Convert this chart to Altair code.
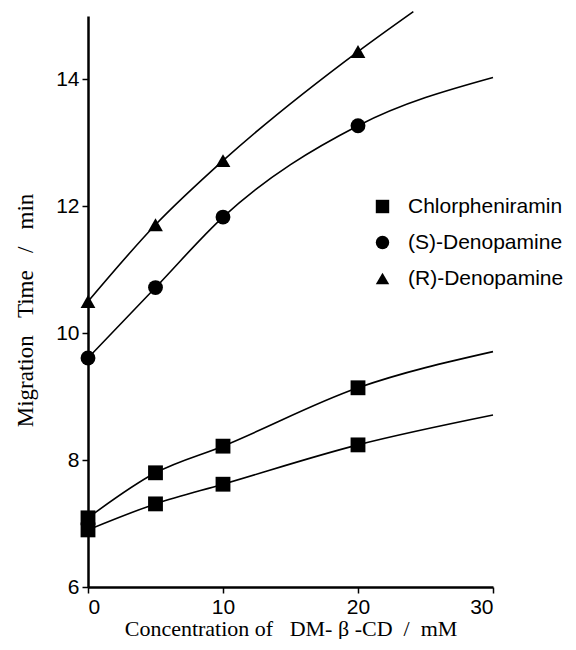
import altair as alt
import pandas as pd

# ---- data ----
conc = [0, 5, 10, 20]
chl_upper = [7.09, 7.80, 8.22, 9.14]
chl_lower = [6.90, 7.31, 7.62, 8.24]
s_deno = [9.61, 10.72, 11.83, 13.27]
r_deno = [10.50, 11.71, 12.72, 14.44]

# where the fitted curves end
end_x = [30, 30, 30, 24.1]
end_y = [9.71, 8.71, 14.03, 15.07]

series_ids = ["chl_upper", "chl_lower", "s_deno", "r_deno"]
compounds = ["Chlorpheniramin", "Chlorpheniramin", "(S)-Denopamine", "(R)-Denopamine"]
values = [chl_upper, chl_lower, s_deno, r_deno]

legend_order = ["Chlorpheniramin", "(S)-Denopamine", "(R)-Denopamine"]
legend_shapes = ["square", "circle", "triangle-up"]

x_ticks = [0, 10, 20, 30]
y_ticks = [6, 8, 10, 12, 14]

NB = "\u00a0"
x_title = f"Concentration of{NB*3}DM-{NB}\u03b2{NB}-CD{NB*2}/{NB*2}mM"
y_title = f"Migration{NB*3}Time{NB*3}/{NB*3}min"

pts_rows, line_rows = [], []
for sid, comp, vals, ex, ey in zip(series_ids, compounds, values, end_x, end_y):
    for c, v in zip(conc, vals):
        pts_rows.append({"series": sid, "compound": comp, "conc": c, "time": v})
        line_rows.append({"series": sid, "conc": c, "time": v})
    line_rows.append({"series": sid, "conc": ex, "time": ey})

pts = pd.DataFrame(pts_rows)
lines_df = pd.DataFrame(line_rows)

x_scale = alt.Scale(domain=[0, 30], nice=False, zero=False)
y_scale = alt.Scale(domain=[6, 15], nice=False, zero=False)

x_axis = alt.Axis(
    values=x_ticks, format="d", title=x_title,
    titleFont="Liberation Serif", titleFontSize=22, titleFontWeight="normal",
    titlePadding=1,
)
y_axis = alt.Axis(
    values=y_ticks, format="d", title=y_title,
    titleFont="Liberation Serif", titleFontSize=23, titleFontWeight="normal",
    titleX=-63, titleY=294, titleBaseline="middle",
)

lines = alt.Chart(lines_df).mark_line(
    interpolate="monotone", color="black", strokeWidth=1.6
).encode(
    x=alt.X("conc:Q", scale=x_scale, axis=x_axis),
    y=alt.Y("time:Q", scale=y_scale, axis=y_axis),
    detail="series:N",
)

points = alt.Chart(pts).mark_point(
    filled=True, color="black", opacity=1, size=220
).encode(
    x=alt.X("conc:Q", scale=x_scale),
    y=alt.Y("time:Q", scale=y_scale),
    shape=alt.Shape(
        "compound:N",
        scale=alt.Scale(domain=legend_order, range=legend_shapes),
        legend=alt.Legend(
            title=None, orient="none", legendX=284, legendY=180,
            padding=0, symbolSize=180, symbolFillColor="black",
            symbolStrokeColor="black", symbolStrokeWidth=0,
            labelFont="Liberation Sans", labelFontSize=21, labelColor="black",
            labelOffset=15, rowPadding=14, symbolOffset=0, labelLimit=0,
        ),
    ),
)

chart = (
    alt.layer(lines, points)
    .properties(
        width=405, height=571,
        autosize=alt.AutoSizeParams(type="none"),
        padding={"left": 80, "top": 8, "right": 75, "bottom": 52},
    )
    .configure_view(stroke=None)
    .configure_axis(
        grid=False,
        domainColor="black", domainWidth=2.5,
        tickColor="black", tickWidth=1.5, tickSize=6,
        labelFont="Liberation Sans", labelFontSize=21, labelColor="black",
        titleColor="black", labelPadding=3,
    )
)

chart.save("out.html", embed_options={"renderer": "svg", "actions": False})
